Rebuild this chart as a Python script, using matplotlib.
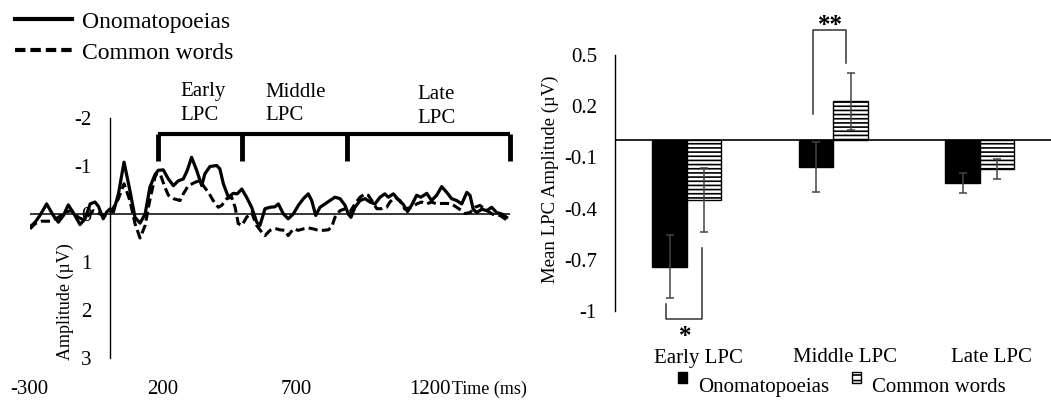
import matplotlib
matplotlib.use('Agg')
import matplotlib.pyplot as plt
from matplotlib.lines import Line2D
from matplotlib.patches import Patch
import numpy as np

plt.rcParams['font.family'] = 'Liberation Serif'
plt.rcParams['axes.unicode_minus'] = False
plt.rcParams['hatch.linewidth'] = 1.2

# ---- ERP waveforms (ms, uV) ----
onom_t = [-298, -279, -261, -236, -211, -192, -173, -155, -130, -111, -92, -73, -55, -42, -24, -11,
          2, 14, 33, 54, 76, 95, 114, 133, 151, 170, 182, 201, 220, 239, 257, 276, 291, 307, 326,
          345, 357, 376, 401, 413, 426, 445, 463, 478, 495, 513, 532, 551, 563, 582, 601, 619,
          632, 651, 669, 688, 707, 726, 744, 757, 772, 788, 807, 825, 844, 863, 882, 894, 904,
          919, 938, 957, 975, 994, 1013, 1031, 1044, 1063, 1081, 1100, 1116, 1131, 1150, 1166,
          1188, 1206, 1225, 1244, 1263, 1281, 1300, 1319, 1338, 1350, 1362, 1375, 1394, 1413,
          1431, 1450, 1469, 1487]
onom_v = [0.27, 0.17, 0.03, -0.21, 0.03, 0.17, 0.03, -0.19, 0.03, 0.22, 0.10, -0.21, -0.25, -0.16,
          0.10, -0.04, -0.11, -0.04, -0.42, -1.08, -0.49, 0.07, 0.19, 0.00, -0.56, -0.82, -0.91,
          -0.92, -0.73, -0.59, -0.69, -0.73, -0.91, -1.18, -0.91, -0.59, -0.84, -0.99, -1.01,
          -0.94, -0.63, -0.35, -0.43, -0.42, -0.52, -0.35, -0.14, 0.17, 0.24, -0.11, -0.14, -0.15,
          -0.21, 0.00, 0.10, 0.00, -0.18, -0.32, -0.42, -0.28, 0.03, -0.14, -0.21, -0.28, -0.35,
          -0.32, -0.18, 0.00, 0.07, -0.14, -0.28, -0.32, -0.25, -0.21, -0.35, -0.42, -0.35, -0.42,
          -0.30, -0.20, -0.05, -0.18, -0.39, -0.35, -0.43, -0.28, -0.39, -0.57, -0.45, -0.32,
          -0.28, -0.21, -0.45, -0.39, -0.10, -0.03, -0.10, -0.07, -0.14, -0.03, 0.00, 0.07]

common_t = [-298, -279, -254, -223, -192, -167, -142, -117, -98, -80, -61, -36, -11, 8, 33, 54, 76,
            95, 114, 133, 151, 170, 176, 189, 207, 220, 239, 264, 276, 295, 320, 339, 351, 370,
            388, 407, 420, 439, 457, 470, 482, 495, 513, 532, 551, 570, 582, 601, 619, 638, 657,
            669, 688, 707, 726, 744, 763, 782, 800, 819, 832, 844, 863, 882, 900, 919, 938, 957,
            969, 982, 1001, 1019, 1038, 1050, 1069, 1088, 1106, 1131, 1150, 1169, 1188, 1206,
            1225, 1244, 1263, 1281, 1300, 1319, 1331, 1350, 1369, 1387, 1406, 1425, 1443, 1462,
            1481, 1493]
common_v = [0.31, 0.20, 0.15, 0.15, 0.07, -0.04, -0.07, 0.07, 0.12, 0.03, -0.07, 0.00, 0.03, -0.07,
            -0.32, -0.63, -0.28, 0.20, 0.50, 0.24, -0.30, -0.77, -0.84, -0.84, -0.56, -0.39, -0.32,
            -0.28, -0.42, -0.59, -0.66, -0.70, -0.59, -0.45, -0.28, -0.14, -0.18, -0.32, -0.35,
            -0.14, 0.20, 0.24, 0.07, -0.03, 0.24, 0.38, 0.45, 0.34, 0.30, 0.33, 0.34, 0.45, 0.31,
            0.34, 0.31, 0.29, 0.31, 0.34, 0.34, 0.33, 0.27, 0.07, -0.07, -0.11, -0.04, -0.21, -0.35,
            -0.42, -0.39, -0.28, -0.11, -0.11, -0.14, -0.25, -0.35, -0.28, -0.10, -0.14, -0.21,
            -0.25, -0.21, -0.25, -0.21, -0.22, -0.22, -0.21, -0.14, -0.07, -0.01, -0.03, -0.14,
            -0.18, -0.10, -0.03, 0.03, 0.03, 0.10, 0.14]

# LPC windows (ms)
lpc_bounds = [182, 497, 890, 1500]
lpc_names = ['Early\nLPC', 'Middle\nLPC', 'Late\nLPC']
lpc_label_t = [264, 585, 1154]

# ---- Mean LPC amplitude bars ----
categories = ['Early LPC', 'Middle LPC', 'Late LPC']
onom_mean = [-0.74, -0.155, -0.25]
onom_err = [0.185, 0.145, 0.06]
common_mean = [-0.35, 0.23, -0.17]
common_err = [0.19, 0.167, 0.058]

fig = plt.figure(figsize=(10.51, 4.0), dpi=100)

# ================= left: waveforms =================
ax1 = fig.add_axes([0.0281, 0.105, 0.4572, 0.6])
ax1.plot(onom_t, onom_v, color='black', lw=2.3, zorder=3)
ax1.plot(common_t, common_v, color='black', lw=2.2, ls='--', dashes=(3.0, 1.4), zorder=3)
ax1.axhline(0, color='black', lw=1.1, zorder=2)
ax1.set_xlim(-300, 1500)
ax1.set_ylim(3, -2)
for s in ['top', 'right', 'bottom']:
    ax1.spines[s].set_visible(False)
ax1.spines['left'].set_position(('data', 0))
ax1.spines['left'].set_linewidth(1.0)
ax1.set_yticks([-2, -1, 0, 1, 2, 3])
ax1.set_yticklabels(['-2', '-1', '0', '1', '2', '3'])
ax1.set_xticks([-300, 200, 700, 1200])
ax1.set_xticklabels(['-300', '200', '700', '1200'])
ax1.tick_params(axis='y', length=0, pad=13, labelsize=15)
ax1.tick_params(axis='x', length=0, pad=16, labelsize=15)
ax1.text(0.879, -0.13, 'Time (ms)', transform=ax1.transAxes, ha='left', va='center', fontsize=13)
ax1.text(0.074, 0.233, 'Amplitude (µV)', transform=ax1.transAxes, rotation=90,
         ha='center', va='center', fontsize=13)

# LPC window bracket
ax1.hlines(-1.66, lpc_bounds[0], lpc_bounds[-1], color='black', lw=3, clip_on=False)
ax1.vlines(lpc_bounds, -1.66, -1.11, color='black', lw=3.5, clip_on=False)
for t, name, yy in zip(lpc_label_t, lpc_names, [-2.30, -2.29, -2.24]):
    ax1.text(t, yy, name, ha='left', va='center', fontsize=15, linespacing=1.3, clip_on=False)

fig.legend(handles=[Line2D([], [], color='black', lw=3),
                    Line2D([], [], color='black', lw=3, ls='--', dashes=(2.5, 1.2))],
           labels=['Onomatopoeias', 'Common words'], loc='upper left',
           bbox_to_anchor=(0.0143, 0.972), frameon=False, fontsize=17,
           handlelength=2.4, handletextpad=0.45, labelspacing=0.4,
           borderpad=0, borderaxespad=0)

# ================= right: bar chart =================
ax2 = fig.add_axes([615 / 1051, 0.2225, 436 / 1051, 0.64])
x = np.arange(len(categories))
w = 0.235
err_kw = dict(ecolor='#444444', elinewidth=1.1, capsize=3, capthick=1.1)
ax2.bar(x - w / 2, onom_mean, w, color='black', edgecolor='black', yerr=onom_err,
        error_kw=err_kw, zorder=2)
ax2.bar(x + w / 2, common_mean, w, color='white', edgecolor='black', lw=1.0, hatch='----',
        yerr=common_err, error_kw=err_kw, zorder=2)
ax2.axhline(0, color='black', lw=1.2, zorder=3)
ax2.set_xlim(-0.49, 2.486)
ax2.set_ylim(-1, 0.5)
for s in ['top', 'right', 'bottom']:
    ax2.spines[s].set_visible(False)
ax2.spines['left'].set_linewidth(1.0)
yt = [0.5, 0.2, -0.1, -0.4, -0.7, -1]
ax2.set_yticks(yt)
ax2.set_yticklabels(['0.5', '0.2', '-0.1', '-0.4', '-0.7', '-1'])
ax2.set_xticks(x + 0.08)
ax2.set_xticklabels(categories)
ax2.tick_params(axis='y', length=0, pad=13, labelsize=15)
ax2.tick_params(axis='x', length=0, pad=27, labelsize=15)
ax2.text(-0.148, 0.516, 'Mean LPC Amplitude (µV)', transform=ax2.transAxes, rotation=90,
         ha='center', va='center', fontsize=13.5)

# significance brackets
ax2.plot([-0.143, -0.143, 0.107, 0.107], [-0.961, -1.045, -1.045, -0.628],
         color='#333333', lw=1.1, clip_on=False)
ax2.text(-0.014, -1.15, '*', ha='center', va='center', fontsize=18, fontweight='bold')
ax2.plot([0.862, 0.862, 1.085, 1.085], [0.157, 0.647, 0.647, 0.455],
         color='#333333', lw=1.1, clip_on=False)
ax2.text(0.983, 0.67, '**', ha='center', va='center', fontsize=18, fontweight='bold',
         clip_on=False)

leg = fig.legend(handles=[Patch(facecolor='black', edgecolor='black'),
                          Patch(facecolor='white', edgecolor='black', hatch='---')],
                 labels=['Onomatopoeias', 'Common words'], loc='upper left', ncol=2,
                 bbox_to_anchor=(678 / 1051, 0.055), frameon=False, fontsize=15,
                 handlelength=0.45, handleheight=0.45, handletextpad=0.5, columnspacing=1.1,
                 borderpad=0, borderaxespad=0)
# markers sit a little above the text, as in the original
for h in leg.legend_handles:
    h.set_y(h.get_y() + 5)

fig.savefig('out.png', dpi=100)
